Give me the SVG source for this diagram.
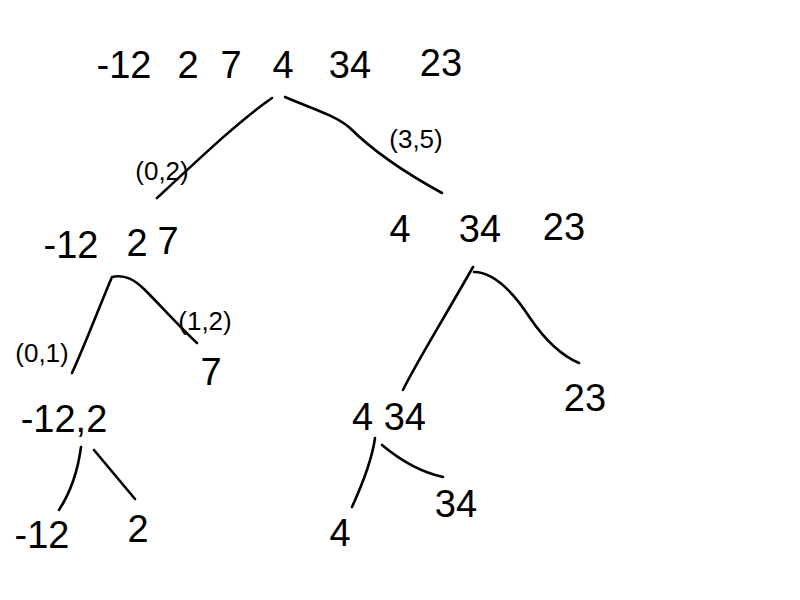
<svg xmlns="http://www.w3.org/2000/svg" width="800" height="600" viewBox="0 0 800 600">
<style>
.t{font-family:"Liberation Sans","DejaVu Sans",sans-serif;font-size:38px;fill:#000;text-anchor:middle}
.s{font-family:"Liberation Sans","DejaVu Sans",sans-serif;font-size:26px;fill:#000;text-anchor:middle}
.e{fill:none;stroke:#000;stroke-width:2.6;stroke-linecap:round;stroke-linejoin:round}
</style>
<rect width="800" height="600" fill="#fff"/>
<g id="root">
<text class="t" x="124" y="78">-12</text>
<text class="t" x="188" y="78">2</text>
<text class="t" x="231" y="78">7</text>
<text class="t" x="283" y="78">4</text>
<text class="t" x="350" y="78">34</text>
<text class="t" x="441" y="76">23</text>
</g>
<g id="left">
<text class="t" x="71" y="258">-12</text>
<text class="t" x="137" y="256">2</text>
<text class="t" x="168" y="254">7</text>
</g>
<g id="right">
<text class="t" x="400" y="242">4</text>
<text class="t" x="480" y="242">34</text>
<text class="t" x="564" y="240">23</text>
</g>
<g id="n-12-2">
<text class="t" x="64" y="432">-12,2</text>
</g>
<g id="n7">
<text class="t" x="211" y="385">7</text>
</g>
<g id="n4-34">
<text class="t" x="389" y="430">4 34</text>
</g>
<g id="n23">
<text class="t" x="585" y="411">23</text>
</g>
<g id="leaf-12">
<text class="t" x="42" y="548">-12</text>
</g>
<g id="leaf2">
<text class="t" x="138" y="542">2</text>
</g>
<g id="leaf4">
<text class="t" x="340" y="546">4</text>
</g>
<g id="leaf34">
<text class="t" x="456" y="517">34</text>
</g>
<g id="connectors">
<path class="e" d="M272,98 C240,120 200,158 157,198"/>
<path class="e" d="M285,97 C310,108 335,115 350,128 C370,148 400,170 442,193"/>
<path class="e" d="M72,373 C85,345 100,305 112,277 C125,274 135,280 145,290 C160,305 178,325 197,343"/>
<path class="e" d="M81,447 C78,470 72,490 59,510"/>
<path class="e" d="M94,450 L135,499"/>
<path class="e" d="M403,390 C415,365 440,325 473,267"/>
<path class="e" d="M474,272 C495,272 515,295 530,318 C545,340 560,355 579,363"/>
<path class="e" d="M375,438 C372,460 362,485 352,507"/>
<path class="e" d="M382,445 C400,460 420,472 443,477"/>
</g>
<g id="labels">
<text class="s" x="162" y="180">(0,2)</text>
<text class="s" x="416" y="148">(3,5)</text>
<text class="s" x="42" y="362">(0,1)</text>
<text class="s" x="205" y="330">(1,2)</text>
</g>
</svg>
